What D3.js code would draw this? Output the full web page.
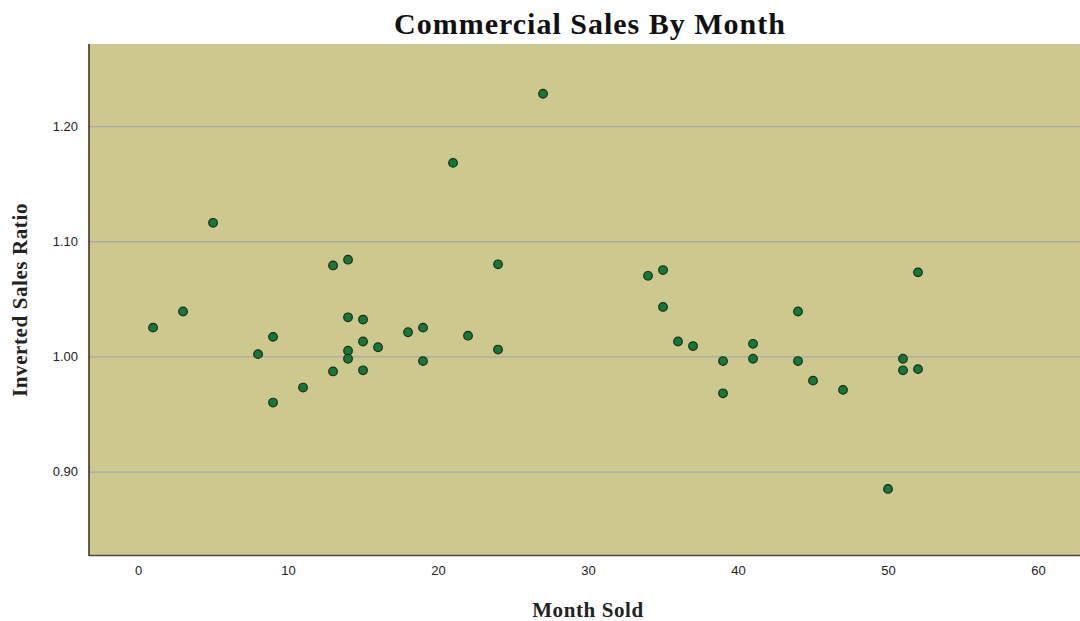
<html>
<head>
  <title>Commercial Sales By Month</title>
  <script src='https://d3js.org/d3.v7.min.js'></script>
  <style>
    html, body { margin: 0; background: #fff; }
  </style>
</head>
<body>
  <script>
    // month sold / inverted sales ratio
    var months = [1, 3, 5, 8, 9, 9, 11, 13, 13, 14, 14, 14, 14, 15, 15, 15, 16, 18, 19, 19,
                  21, 22, 24, 24, 27, 34, 35, 35, 36, 37, 39, 39, 41, 41, 44, 44, 45, 47, 50, 51, 51, 52, 52];
    var ratios = [1.025, 1.039, 1.116, 1.002, 1.017, 0.960, 0.973, 1.079, 0.987, 1.084, 1.034, 1.005, 0.998, 1.032, 1.013, 0.988, 1.008, 1.021, 1.025, 0.996,
                  1.168, 1.018, 1.080, 1.006, 1.228, 1.070, 1.075, 1.043, 1.013, 1.009, 0.996, 0.968, 1.011, 0.998, 1.039, 0.996, 0.979, 0.971, 0.885, 0.998, 0.988, 1.073, 0.989];
    var xTicks = [0, 10, 20, 30, 40, 50, 60];
    var yTicks = [0.90, 1.00, 1.10, 1.20];

    var width = 1080,
        height = 621;
    var plotL = 89, plotT = 44, plotR = 1080, plotB = 556;

    var svg = d3.select('body')
      .append('svg')
      .attr('width', width)
      .attr('height', height);

    var x = d3.scaleLinear().domain([-3.27, 62.8]).range([plotL, plotR]);
    var y = d3.scaleLinear().domain([0.8268, 1.2712]).range([plotB, plotT]);

    svg.append('rect')
      .attr('x', plotL).attr('y', plotT)
      .attr('width', plotR - plotL).attr('height', plotB - plotT)
      .attr('fill', '#cdc98e');

    // grid lines
    svg.append('g')
      .attr('transform', 'translate(' + plotL + ',0)')
      .call(d3.axisLeft(y).tickValues(yTicks).tickSize(-(plotR - plotL)).tickFormat(''))
      .call(g => g.select('.domain').remove())
      .selectAll('line')
      .attr('stroke', '#a9a9a4')
      .attr('stroke-width', 1.3);

    // y tick labels
    svg.append('g')
      .attr('transform', 'translate(' + plotL + ',0)')
      .call(d3.axisLeft(y).tickValues(yTicks).tickSize(0).tickPadding(11).tickFormat(d3.format('.2f')))
      .call(g => g.select('.domain').remove())
      .selectAll('text')
      .attr('font-family', 'Liberation Sans, Arial, sans-serif')
      .attr('font-size', 13)
      .attr('fill', '#222');

    // x tick labels
    svg.append('g')
      .attr('transform', 'translate(0,' + plotB + ')')
      .call(d3.axisBottom(x).tickValues(xTicks).tickSize(0).tickPadding(10))
      .call(g => g.select('.domain').remove())
      .selectAll('text')
      .attr('font-family', 'Liberation Sans, Arial, sans-serif')
      .attr('font-size', 13)
      .attr('fill', '#222');

    // axis lines
    svg.append('line')
      .attr('x1', plotL).attr('x2', plotL).attr('y1', plotT).attr('y2', plotB)
      .attr('stroke', '#2b2b25').attr('stroke-width', 1.5);
    svg.append('line')
      .attr('x1', plotL).attr('x2', plotR).attr('y1', plotB - 0.5).attr('y2', plotB - 0.5)
      .attr('stroke', '#4a4a3e').attr('stroke-width', 1.5);

    var pts = months.map((m, i) => ({ m: m, r: ratios[i] }));

    svg.append('g')
      .selectAll('circle')
      .data(pts)
      .enter()
      .append('circle')
      .attr('cx', d => x(d.m))
      .attr('cy', d => y(d.r))
      .attr('r', 4.3)
      .attr('fill', '#0f7a39')
      .attr('stroke', '#1c2a18')
      .attr('stroke-width', 1.2);

    svg.append('text')
      .attr('x', 590).attr('y', 34)
      .attr('text-anchor', 'middle')
      .attr('font-family', 'Liberation Serif, DejaVu Serif, serif')
      .attr('font-weight', 'bold')
      .attr('font-size', 30)
      .attr('letter-spacing', 1)
      .attr('fill', '#111')
      .text('Commercial Sales By Month');

    svg.append('text')
      .attr('x', 588).attr('y', 617)
      .attr('text-anchor', 'middle')
      .attr('font-family', 'Liberation Serif, DejaVu Serif, serif')
      .attr('font-weight', 'bold')
      .attr('font-size', 21)
      .attr('letter-spacing', 0.6)
      .attr('fill', '#222')
      .text('Month Sold');

    svg.append('text')
      .attr('transform', 'translate(27,300) rotate(-90)')
      .attr('text-anchor', 'middle')
      .attr('font-family', 'Liberation Serif, DejaVu Serif, serif')
      .attr('font-weight', 'bold')
      .attr('font-size', 21)
      .attr('letter-spacing', 0.6)
      .attr('fill', '#222')
      .text('Inverted Sales Ratio');
  </script>
</body>
</html>
